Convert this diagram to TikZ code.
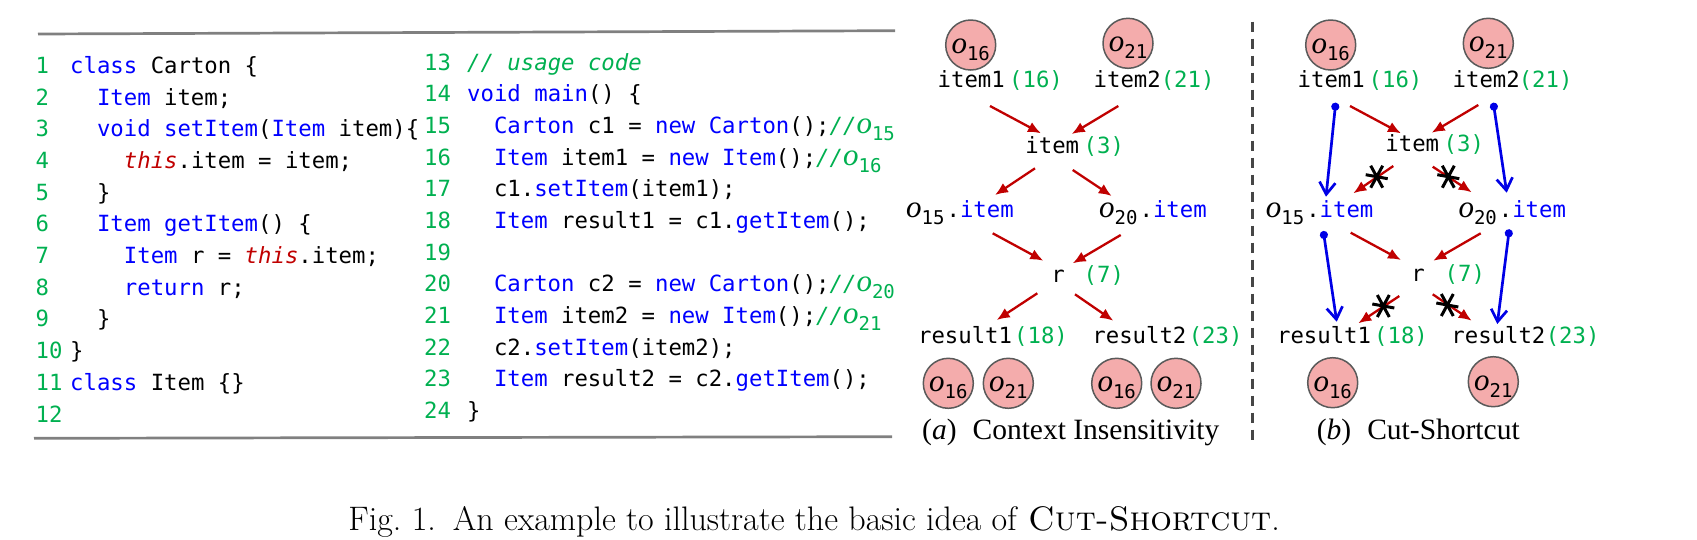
\documentclass[tikz,border=0pt]{standalone}
\usepackage{fontspec}
\setmonofont{DejaVu Sans Mono}
\newfontfamily\oserif{Liberation Serif}
\newfontfamily\capfont{Liberation Serif}
\usetikzlibrary{arrows.meta,calc}
\definecolor{lngreen}{RGB}{0,176,80}
\definecolor{kwblue}{RGB}{0,0,255}
\definecolor{thisred}{RGB}{192,0,0}
\definecolor{arrred}{RGB}{192,0,0}
\definecolor{arrblue}{RGB}{0,0,230}
\definecolor{nodepink}{RGB}{244,172,172}
\definecolor{nodeedge}{RGB}{90,90,90}
\definecolor{rulegray}{RGB}{128,128,128}
\definecolor{dashgray}{RGB}{70,70,70}
\newcommand\kw[1]{\textcolor{kwblue}{#1}}
\newcommand\ths{\textcolor{thisred}{\itshape this}}
\newcommand\gr[1]{\textcolor{lngreen}{#1}}
\newcommand\ovar[1]{{\oserif\itshape\fontsize{31}{31}\selectfont o}\raisebox{-7pt}{\ttfamily\upshape\fontsize{19}{19}\selectfont #1}}
\tikzset{
  code/.style={anchor=base west, inner sep=0pt, font=\ttfamily\fontsize{22.3}{26}\selectfont},
  lnum/.style={code, text=lngreen},
  var/.style={anchor=mid west, inner sep=0pt, font=\ttfamily\fontsize{22.3}{26}\selectfont},
  lbl/.style={var, text=lngreen},
  obj/.style={circle, draw=nodeedge, line width=1.5pt, fill=nodepink, minimum size=50pt, inner sep=0pt, text height=16.6pt, text depth=0pt},
  ra/.style={draw=arrred, line width=2.3pt, -{Latex[length=13pt,width=11pt]}},
  ba/.style={draw=arrblue, line width=2.7pt, {Circle[length=8pt]}-{Straight Barb[length=12pt,width=16pt]}},
  capt/.style={anchor=base west, inner sep=0pt, font=\capfont\fontsize{29.5}{30}\selectfont},
  xmark/.pic={\draw[black, line width=3pt] (-11,-2) -- (11,2) (-6,-11) -- (6,11) (6,-11) -- (-6,11);}
}
\begin{document}
\begin{tikzpicture}[x=1pt, y=-1pt]
\useasboundingbox (0,0) rectangle (1697,539);
% rules
\draw[rulegray, line width=2.7pt] (38,34) -- (895,30.7);
\draw[rulegray, line width=2.7pt] (34,438.3) -- (892,436.7);
% code column 1
\node[lnum] (n1) at (35.5,73.3) {1};
\node[lnum] (n2) at (35.5,105) {2};
\node[lnum] (n3) at (35.5,136.7) {3};
\node[lnum] (n4) at (35.5,168.4) {4};
\node[lnum] (n5) at (35.5,200.1) {5};
\node[lnum] (n6) at (35.5,231.8) {6};
\node[lnum] (n7) at (35.5,263.5) {7};
\node[lnum] (n8) at (35.5,295.2) {8};
\node[lnum] (n9) at (35.5,326.9) {9};
\node[lnum] (n10) at (35.5,358.6) {10};
\node[lnum] (n11) at (35.5,390.3) {11};
\node[lnum] (n12) at (35.5,422) {12};
\node[code] (k1) at (70,73.3) {\kw{class} Carton \{};
\node[code] (k2) at (96.8,105) {\kw{Item} item;};
\node[code] (k3) at (96.8,136.7) {\kw{void setItem}(\kw{Item} item)\{};
\node[code] (k4) at (123.7,168.4) {\ths.item = item;};
\node[code] (k5) at (96.8,200.1) {\}};
\node[code] (k6) at (96.8,231.8) {\kw{Item getItem}() \{};
\node[code] (k7) at (123.7,263.5) {\kw{Item} r = \ths.item;};
\node[code] (k8) at (123.7,295.2) {\kw{return} r;};
\node[code] (k9) at (96.8,326.9) {\}};
\node[code] (k10) at (70,358.6) {\}};
\node[code] (k11) at (70,390.3) {\kw{class} Item \{\}};
% code column 2
\node[lnum] (n13) at (424,70) {13};
\node[lnum] (n14) at (424,101.7) {14};
\node[lnum] (n15) at (424,133.3) {15};
\node[lnum] (n16) at (424,165) {16};
\node[lnum] (n17) at (424,196.7) {17};
\node[lnum] (n18) at (424,228.4) {18};
\node[lnum] (n19) at (424,260) {19};
\node[lnum] (n20) at (424,291.7) {20};
\node[lnum] (n21) at (424,323.4) {21};
\node[lnum] (n22) at (424,355) {22};
\node[lnum] (n23) at (424,386.7) {23};
\node[lnum] (n24) at (424,418.4) {24};
\node[code] (k13) at (467,70) {\gr{\itshape// usage code}};
\node[code] (k14) at (467,101.7) {\kw{void main}() \{};
\node[code] (k15) at (493.8,133.3) {\kw{Carton} c1 = \kw{new Carton}();\gr{\itshape//\ovar{15}}};
\node[code] (k16) at (493.8,165) {\kw{Item} item1 = \kw{new Item}();\gr{\itshape//\ovar{16}}};
\node[code] (k17) at (493.8,196.7) {c1.\kw{setItem}(item1);};
\node[code] (k18) at (493.8,228.4) {\kw{Item} result1 = c1.\kw{getItem}();};
\node[code] (k20) at (493.8,291.7) {\kw{Carton} c2 = \kw{new Carton}();\gr{\itshape//\ovar{20}}};
\node[code] (k21) at (493.8,323.4) {\kw{Item} item2 = \kw{new Item}();\gr{\itshape//\ovar{21}}};
\node[code] (k22) at (493.8,355) {c2.\kw{setItem}(item2);};
\node[code] (k23) at (493.8,386.7) {\kw{Item} result2 = c2.\kw{getItem}();};
\node[code] (k24) at (467,418.4) {\}};
% ---------- panel (a)
\node[obj] (aC16) at (970.7,45) {\ovar{16}};
\node[obj] (aC21) at (1128,43.3) {\ovar{21}};
\node[var] (aI1) at (937.5,85) {item1};
\node[lbl] (aL16) at (1009,85) {(16)};
\node[var] (aI2) at (1093.5,85) {item2};
\node[lbl] (aL21) at (1160.6,85) {(21)};
\node[var] (aIT) at (1025.2,151.7) {item};
\node[lbl] (aL3) at (1083.5,151.7) {(3)};
\node[var] (aO15) at (906,215) {\ovar{15}\kern2pt.\kw{item}};
\node[var] (aO20) at (1099,215) {\ovar{20}\kern2pt.\kw{item}};
\node[var] (aR) at (1051.2,280) {r};
\node[lbl] (aL7) at (1083.5,280) {(7)};
\node[var] (aS1) at (917.9,341.7) {result1};
\node[lbl] (aL18) at (1014,341.7) {(18)};
\node[var] (aS2) at (1092.2,341.7) {result2};
\node[lbl] (aL23) at (1188.6,341.7) {(23)};
\node[obj] (aB16a) at (948.3,383.3) {\ovar{16}};
\node[obj] (aB21a) at (1008.3,383.3) {\ovar{21}};
\node[obj] (aB16b) at (1116.7,383.3) {\ovar{16}};
\node[obj] (aB21b) at (1176,383.3) {\ovar{21}};
\draw[ra] ([shift={(52.5,21)}]aI1.mid west) -- ([shift={(15.8,-18.4)}]aIT.mid west);
\draw[ra] ([shift={(24.8,21)}]aI2.mid west) -- ([shift={(46.5,-17.7)}]aIT.mid west);
\draw[ra] ([shift={(9.8,16.6)}]aIT.mid west) -- ([shift={(89,-20)}]aO15.mid west);
\draw[ra] ([shift={(47.5,18.3)}]aIT.mid west) -- ([shift={(12.7,-19)}]aO20.mid west);
\draw[ra] ([shift={(86.7,18.3)}]aO15.mid west) -- ([shift={(-7.9,-19.3)}]aR.mid west);
\draw[ra] ([shift={(21.7,20)}]aO20.mid west) -- ([shift={(21.5,-16.7)}]aR.mid west);
\draw[ra] ([shift={(-13.9,13.3)}]aR.mid west) -- ([shift={(78.8,-21.7)}]aS1.mid west);
\draw[ra] ([shift={(23.8,14.3)}]aR.mid west) -- ([shift={(21.1,-21)}]aS2.mid west);
\node[capt] (capA) at (922,439.3) {(\textit{a})\hspace{16pt}Context Insensitivity};
% divider
\draw[dashgray, line width=2.8pt, dash pattern=on 10pt off 7pt] (1252.7,21.7) -- (1252.7,443);
% ---------- panel (b)
\node[obj] (bC16) at (1330.7,45) {\ovar{16}};
\node[obj] (bC21) at (1488.3,43.3) {\ovar{21}};
\node[var] (bI1) at (1297.5,85) {item1};
\node[lbl] (bL16) at (1368.5,85) {(16)};
\node[var] (bI2) at (1452.5,85) {item2};
\node[lbl] (bL21) at (1518.6,85) {(21)};
\node[var] (bIT) at (1385.2,149.3) {item};
\node[lbl] (bL3) at (1443.5,149.3) {(3)};
\node[var] (bO15) at (1265.7,215) {\ovar{15}\kern2pt.\kw{item}};
\node[var] (bO20) at (1458.3,215) {\ovar{20}\kern2pt.\kw{item}};
\node[var] (bR) at (1411.2,279.3) {r};
\node[lbl] (bL7) at (1444.5,279.3) {(7)};
\node[var] (bS1) at (1276.9,341.7) {result1};
\node[lbl] (bL18) at (1374,341.7) {(18)};
\node[var] (bS2) at (1451.2,341.7) {result2};
\node[lbl] (bL23) at (1545.6,341.7) {(23)};
\node[obj] (bB16) at (1332.7,382.7) {\ovar{16}};
\node[obj] (bB21) at (1493.3,381.7) {\ovar{21}};
\draw[ra] ([shift={(52.5,21)}]bI1.mid west) -- ([shift={(15.8,-16)}]bIT.mid west);
\draw[ra] ([shift={(25.8,20)}]bI2.mid west) -- ([shift={(46.5,-16.6)}]bIT.mid west);
\draw[ra] ([shift={(8.1,16.7)}]bIT.mid west) -- ([shift={(87.6,-21.7)}]bO15.mid west);
\draw[ra] ([shift={(47.5,17.4)}]bIT.mid west) -- ([shift={(13.4,-22.7)}]bO20.mid west);
\draw[ra] ([shift={(85,17.7)}]bO15.mid west) -- ([shift={(-10.2,-19.3)}]bR.mid west);
\draw[ra] ([shift={(22.4,18.3)}]bO20.mid west) -- ([shift={(22.1,-18.6)}]bR.mid west);
\draw[ra] ([shift={(-11.9,16.7)}]bR.mid west) -- ([shift={(81.4,-18.4)}]bS1.mid west);
\draw[ra] ([shift={(21.5,15)}]bR.mid west) -- ([shift={(20.5,-21)}]bS2.mid west);
\draw[ba] ([shift={(38.2,17.7)}]bI1.mid west) -- ([shift={(60.3,-18.3)}]bO15.mid west);
\draw[ba] ([shift={(40.8,17.7)}]bI2.mid west) -- ([shift={(48.4,-22.3)}]bO20.mid west);
\draw[ba] ([shift={(57.6,16)}]bO15.mid west) -- ([shift={(59.8,-20)}]bS1.mid west);
\draw[ba] ([shift={(51,14.3)}]bO20.mid west) -- ([shift={(46.1,-17.7)}]bS2.mid west);
\pic at (1376.7,176.7) {xmark};
\pic at (1448.3,176.7) {xmark};
\pic at (1383.3,306) {xmark};
\pic at (1447.3,305) {xmark};
\node[capt] (capB) at (1316.7,439.3) {(\textit{b})\hspace{16pt}Cut-Shortcut};
% figure caption
\node[anchor=base east, inner sep=0pt, font=\fontsize{34}{34}\selectfont] (fig) at (1280,530) {Fig.~1.\enspace An example to illustrate the basic idea of \textsc{Cut-Shortcut}.};
\end{tikzpicture}
\end{document}
